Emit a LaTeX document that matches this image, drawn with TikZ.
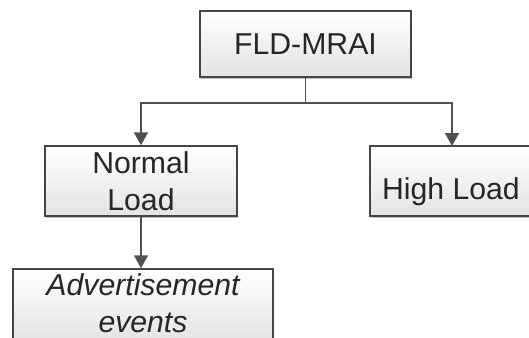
\documentclass[tikz,border=0pt]{standalone}
\usepackage{fontspec}
\setmainfont{Liberation Sans}
\usetikzlibrary{arrows.meta,shadows,calc}
\definecolor{edgecol}{HTML}{454545}
\definecolor{txtcol}{HTML}{262626}
\definecolor{linecol}{HTML}{505050}
\tikzset{
  boxnode/.style={draw=edgecol, line width=1.5pt, rectangle, top color=white, bottom color=black!11,
    drop shadow={shadow xshift=1.2pt, shadow yshift=-1.5pt, opacity=0.25, fill=black},
    text=txtcol, align=center, inner sep=0pt,
    font=\fontsize{30.2}{36.5}\selectfont},
  plaintext/.style={text=txtcol, inner sep=0pt, align=center, font=\fontsize{30.2}{36.5}\selectfont},
  conn/.style={draw=linecol, line width=1.7pt, -{Triangle[width=14pt,length=13pt]}},
  plainconn/.style={draw=linecol, line width=1.7pt}
}
\begin{document}
\begin{tikzpicture}[x=1pt,y=-1pt]
\useasboundingbox (0,0) rectangle (529,337);
\clip (0,0) rectangle (529,337);
\node[boxnode, minimum width=211pt, minimum height=66pt] (top) at (305.5,44) {FLD-MRAI};
\node[boxnode, minimum width=192pt, minimum height=70pt] (normal) at (141,181) {Normal\\Load};
\node[boxnode, minimum width=175pt, minimum height=70pt] (high) at (457.5,181) {};
\node[plaintext] (hightext) at (451,191.5) {High Load};
\node[boxnode, minimum width=260pt, minimum height=74pt] (adv) at (143,306) {};
\node[plaintext, font=\fontsize{30.2}{36.5}\selectfont\itshape] (advtext) at (143,303) {Advertisement\\events};
\coordinate (split) at (305.5,103);
\coordinate (hin) at (452,146);
\draw[plainconn] (top.south) -- (split);
\draw[conn] (split) -| (normal.north);
\draw[conn] (split) -| (hin);
\draw[conn] (normal.south) -- (normal.south |- adv.north);
\end{tikzpicture}
\end{document}
